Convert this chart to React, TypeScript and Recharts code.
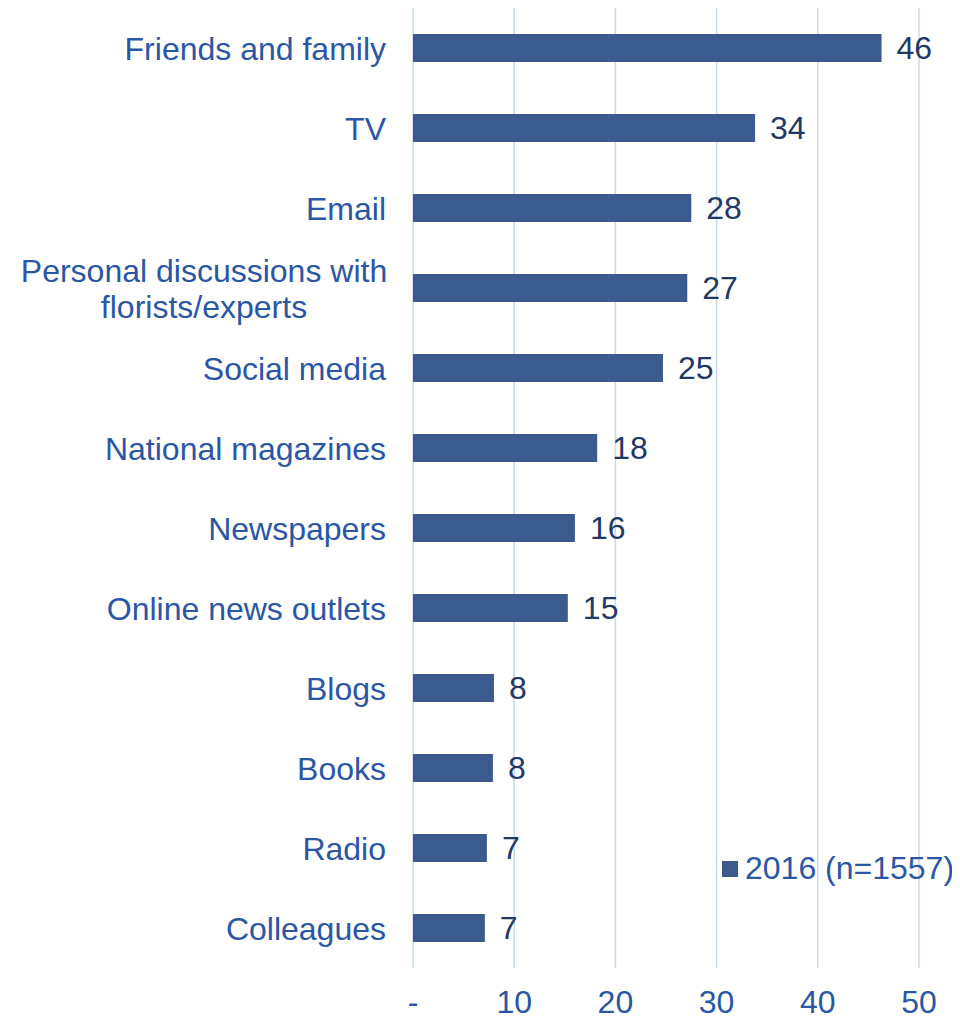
import React from "react";
import { BarChart, Bar, XAxis, YAxis, CartesianGrid, LabelList } from "recharts";

const categories = [
  "Friends and family",
  "TV",
  "Email",
  "Personal discussions with\nflorists/experts",
  "Social media",
  "National magazines",
  "Newspapers",
  "Online news outlets",
  "Blogs",
  "Books",
  "Radio",
  "Colleagues",
];
const values2016 = [46.3, 33.8, 27.5, 27.1, 24.7, 18.2, 16.0, 15.3, 8.0, 7.9, 7.3, 7.1];
const xTicks = [0, 10, 20, 30, 40, 50];
const seriesName = "2016 (n=1557)";

const data = categories.map((name, i) => ({ name, value: values2016[i] }));

const FONT = "Arial, 'Liberation Sans', sans-serif";
const FS = 32;
const TEXT_BLUE = "#2A56A5";
const BAR_BLUE = "#3B5A8E";

// wrapped labels are centred on their longest line, like Excel does
function CategoryTick(props: any) {
  const { x, y, payload } = props;
  const lines = String(payload.value).split("\n");
  const lh = 36;
  const start = -((lines.length - 1) * lh) / 2;
  const multi = lines.length > 1;
  const tx = multi ? x - 182 : x;
  return (
    <text x={tx} y={y} textAnchor={multi ? "middle" : "end"} fill={TEXT_BLUE} fontSize={FS} fontFamily={FONT}>
      {lines.map((l, i) => (
        <tspan key={i} x={tx} y={y + start + i * lh} dy="0.36em">
          {l}
        </tspan>
      ))}
    </text>
  );
}

export default function App() {
  return (
    <div style={{ position: "relative", width: 952, height: 1013 }}>
      <BarChart
        width={952}
        height={1013}
        data={data}
        layout="vertical"
        margin={{ top: 0, right: 41, left: 0, bottom: 3 }}
      >
        <CartesianGrid horizontal={false} stroke="#C9D8F0" strokeWidth={1.5} />
        <XAxis
          type="number"
          domain={[0, 50]}
          ticks={xTicks}
          axisLine={false}
          tickLine={false}
          height={50}
          tick={{ fill: TEXT_BLUE, fontSize: FS, fontFamily: FONT }}
          tickFormatter={(v: number) => (v === 0 ? "-" : String(v))}
          tickMargin={16}
        />
        <YAxis
          type="category"
          dataKey="name"
          width={405}
          axisLine={false}
          tickLine={false}
          tick={<CategoryTick />}
          tickMargin={21}
          interval={0}
        />
        <Bar dataKey="value" name={seriesName} fill={BAR_BLUE} barSize={28} isAnimationActive={false}>
          <LabelList
            dataKey="value"
            position="right"
            offset={15}
            fill="#1F3864"
            fontSize={FS}
            fontFamily={FONT}
            formatter={(v: number) => Math.round(v)}
          />
        </Bar>
      </BarChart>
      <div
        style={{
          position: "absolute",
          left: 714,
          top: 842,
          display: "flex",
          alignItems: "center",
          whiteSpace: "nowrap",
          fontFamily: FONT,
          fontSize: FS,
          color: TEXT_BLUE,
        }}
      >
        <span style={{ width: 16, height: 16, background: BAR_BLUE, display: "inline-block", marginRight: 7 }} />
        {seriesName}
      </div>
    </div>
  );
}
